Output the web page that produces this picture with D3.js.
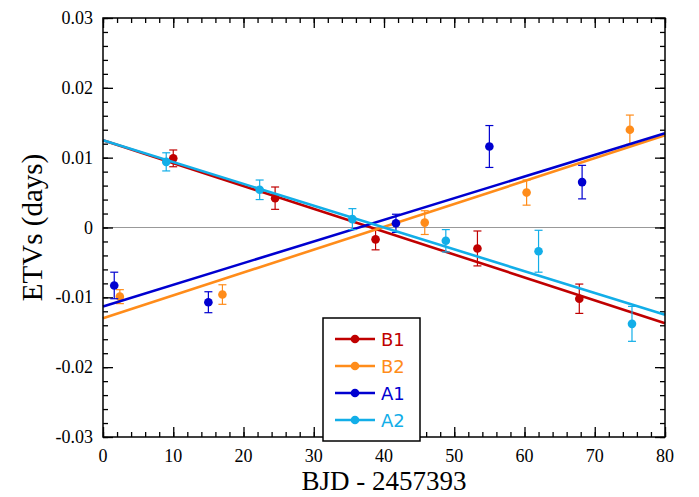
<!DOCTYPE html>
<meta charset="utf-8">
<script src="https://d3js.org/d3.v7.min.js"></script>
<body style="margin:0;background:#fff">
<div id="chart"></div>
<script>
// data
const seriesNames = ["B1", "B2", "A1", "A2"];
const seriesColors = ["#c00000", "#ff8c1a", "#0000d0", "#12aee8"];
const b1 = [[10, 0.0099, 0.0012], [24.5, 0.0042, 0.0016], [38.8, -0.0017, 0.0015], [53.3, -0.003, 0.0025], [67.8, -0.0102, 0.0021]];
const b2 = [[2.4, -0.0099, 0.0010], [17, -0.0096, 0.0014], [45.8, 0.0007, 0.0017], [60.3, 0.005, 0.0018], [75, 0.014, 0.0021]];
const a1 = [[1.6, -0.0083, 0.0019], [15, -0.0107, 0.0015], [41.7, 0.0006, 0.0013], [55, 0.0116, 0.003], [68.2, 0.0065, 0.0024]];
const a2 = [[9, 0.0094, 0.0013], [22.3, 0.0054, 0.0014], [35.5, 0.0012, 0.0015], [48.8, -0.0019, 0.0016], [62, -0.0034, 0.003], [75.3, -0.0138, 0.0025]];
const fits = [[0.0125, -0.0137], [-0.013, 0.0132], [-0.0113, 0.0135], [0.0125, -0.0125]];
const allData = [b1, b2, a1, a2];

const margin = {top: 18, right: 34, bottom: 60, left: 103},
  width = 699 - margin.left - margin.right,
  height = 497 - margin.top - margin.bottom;

const svg = d3.select("#chart").append("svg")
  .attr("width", 699).attr("height", 497)
  .style("font-family", "Liberation Serif, serif");
const g = svg.append("g").attr("transform", `translate(${margin.left},${margin.top})`);

const x = d3.scaleLinear().domain([0, 80]).range([0, width]);
const y = d3.scaleLinear().domain([-0.03, 0.03]).range([height, 0]);

// zero line
g.append("line").attr("x1", 0).attr("x2", width).attr("y1", y(0)).attr("y2", y(0))
  .attr("stroke", "#999").attr("stroke-width", 1);

// ticks inside on all sides
function axis(gen, tr, vals, size) {
  g.append("g").attr("transform", tr)
    .call(gen.tickValues(vals).tickSize(size).tickFormat(""))
    .call(s => s.select(".domain").remove())
    .selectAll("line").attr("stroke", "#000").attr("stroke-width", 1.3);
}
const xMaj = d3.range(0, 81, 10), xMin = d3.range(0, 81, 2);
const yMaj = d3.range(-3, 4).map(d => d / 100), yMin = d3.range(-30, 31, 2).map(d => d / 1000);
axis(d3.axisBottom(x), `translate(0,${height})`, xMaj, -10);
axis(d3.axisBottom(x), `translate(0,${height})`, xMin, -5);
axis(d3.axisTop(x), `translate(0,0)`, xMaj, -10);
axis(d3.axisTop(x), `translate(0,0)`, xMin, -5);
axis(d3.axisLeft(y), `translate(0,0)`, yMaj, -10);
axis(d3.axisLeft(y), `translate(0,0)`, yMin, -5);
axis(d3.axisRight(y), `translate(${width},0)`, yMaj, -10);
axis(d3.axisRight(y), `translate(${width},0)`, yMin, -5);

g.selectAll(".xl").data(xMaj).join("text").attr("x", d => x(d)).attr("y", height + 25)
  .attr("text-anchor", "middle").attr("font-size", 18).text(d => d);
g.selectAll(".yl").data(yMaj).join("text").attr("x", -10).attr("y", d => y(d) + 6)
  .attr("text-anchor", "end").attr("font-size", 18).text(d => d === 0 ? "0" : d.toFixed(2));

svg.append("text").attr("x", margin.left + width / 2).attr("y", 490).attr("text-anchor", "middle")
  .attr("font-size", 27).text("BJD - 2457393");
svg.append("text").attr("transform", `translate(42,${margin.top + height / 2}) rotate(-90)`)
  .attr("text-anchor", "middle").attr("font-size", 29).text("ETVs (days)");

// fit lines + points
allData.forEach((data, i) => {
  const c = seriesColors[i];
  g.append("line").attr("x1", x(0)).attr("x2", x(80)).attr("y1", y(fits[i][0])).attr("y2", y(fits[i][1]))
    .attr("stroke", c).attr("stroke-width", 2.6);
  const pg = g.append("g");
  data.forEach(([px, py, e]) => {
    pg.append("line").attr("x1", x(px)).attr("x2", x(px)).attr("y1", y(py - e)).attr("y2", y(py + e)).attr("stroke", c).attr("stroke-width", 1.2);
    [py - e, py + e].forEach(v => pg.append("line").attr("x1", x(px) - 4).attr("x2", x(px) + 4)
      .attr("y1", y(v)).attr("y2", y(v)).attr("stroke", c).attr("stroke-width", 1.2));
    pg.append("circle").attr("cx", x(px)).attr("cy", y(py)).attr("r", 4.3).attr("fill", c);
  });
});

g.append("rect").attr("width", width).attr("height", height).attr("fill", "none").attr("stroke", "#000").attr("stroke-width", 1.5);

// legend
const lg = svg.append("g").attr("transform", "translate(323,318)");
lg.append("rect").attr("width", 97).attr("height", 123).attr("fill", "#fff").attr("stroke", "#000").attr("stroke-width", 1.5);
seriesNames.forEach((n, i) => {
  const yy = 21 + i * 27;
  lg.append("line").attr("x1", 12).attr("x2", 52).attr("y1", yy).attr("y2", yy).attr("stroke", seriesColors[i]).attr("stroke-width", 2.6);
  lg.append("circle").attr("cx", 32).attr("cy", yy).attr("r", 4.3).attr("fill", seriesColors[i]);
  lg.append("text").attr("x", 58).attr("y", yy + 7).attr("font-family", "DejaVu Sans, sans-serif")
    .attr("font-size", 18).attr("fill", seriesColors[i]).text(n);
});
</script>
</body>
